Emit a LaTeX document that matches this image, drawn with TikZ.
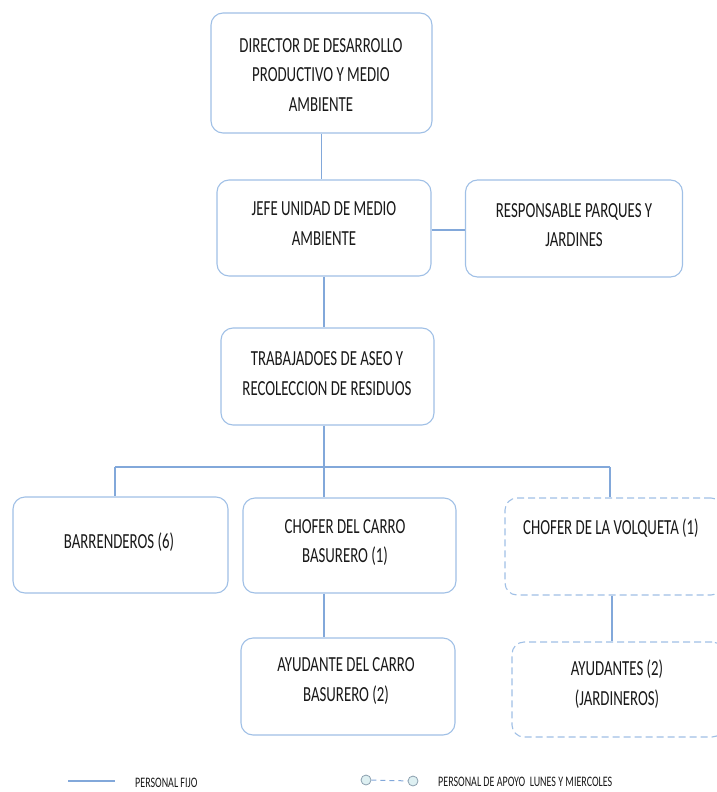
\documentclass[tikz,border=0pt]{standalone}
\usepackage{fontspec}
\setmainfont{Carlito}[FakeStretch=0.69]
\definecolor{boxline}{RGB}{160,192,230}
\definecolor{conn}{RGB}{130,168,218}
\definecolor{circfill}{RGB}{222,240,242}
\definecolor{circline}{RGB}{140,160,175}
\tikzset{
  orgbox/.style={draw=boxline, line width=1.1pt, rounded corners=12pt, fill=white, inner sep=0pt},
  dashbox/.style={orgbox, dash pattern=on 7pt off 4pt},
  txt/.style={font=\fontsize{21.5}{29.5}\selectfont, align=center, text=black!90, inner sep=0pt},
  smalltxt/.style={font=\fontsize{14.5}{15}\selectfont, text=black!90, inner sep=0pt, anchor=west},
  conn/.style={draw=conn, line width=1.1pt},
  legdot/.style={circle, draw=circline, fill=circfill, line width=0.8pt, minimum size=10pt, inner sep=0pt}
}
\begin{document}
\begin{tikzpicture}[x=1pt,y=-1pt]
\useasboundingbox (0,0) rectangle (717,792);
% boxes
\node[orgbox, minimum width=221pt, minimum height=120pt] (dir) at (321.5,73) {};
\node[orgbox, minimum width=214pt, minimum height=96pt] (jefe) at (324,228) {};
\node[orgbox, minimum width=217pt, minimum height=97pt] (resp) at (574,228.5) {};
\node[orgbox, minimum width=213pt, minimum height=97pt] (trab) at (327.5,376.5) {};
\node[orgbox, minimum width=215pt, minimum height=96pt] (barr) at (120.5,545) {};
\node[orgbox, minimum width=213pt, minimum height=95pt] (chof) at (349.5,545.5) {};
\node[dashbox, minimum width=218pt, minimum height=97pt] (volq) at (614,546.5) {};
\node[orgbox, minimum width=214pt, minimum height=97pt] (ayud) at (348,686.5) {};
\node[dashbox, minimum width=212pt, minimum height=95pt] (ayus) at (618,689.5) {};
% texts
\node[txt] (tdir) at (321,75) {DIRECTOR DE DESARROLLO\\PRODUCTIVO Y MEDIO\\AMBIENTE};
\node[txt] (tjefe) at (324,223.5) {JEFE UNIDAD DE MEDIO\\AMBIENTE};
\node[txt] (tresp) at (574,225) {RESPONSABLE PARQUES Y\\JARDINES};
\node[txt] (ttrab) at (327,373.5) {TRABAJADOES DE ASEO Y\\RECOLECCION DE RESIDUOS};
\node[txt] (tbarr) at (119,542) {BARRENDEROS (6)};
\node[txt] (tchof) at (345,542.5) {CHOFER DEL CARRO\\BASURERO (1)};
\node[txt] (tvolq) at (611,528) {CHOFER DE LA VOLQUETA (1)};
\node[txt] (tayud) at (346,681) {AYUDANTE DEL CARRO\\BASURERO (2)};
\node[txt] (tayus) at (617,684) {AYUDANTES (2)\\(JARDINEROS)};
% connectors
\coordinate (bus) at (324,467);
\coordinate (busL) at (115,467);
\coordinate (busR) at (610,467);
\coordinate (jr) at (0,230);
\draw[conn] (dir.south) -- (dir.south |- jefe.north);
\draw[conn] (jefe.south) -- (jefe.south |- trab.north);
\draw[conn] (jefe.east |- jr) -- (resp.west |- jr);
\draw[conn] (trab.south -| bus) -- (bus);
\draw[conn] (busL) -- (busR);
\draw[conn] (busL) -- (busL |- barr.north);
\draw[conn] (bus) -- (bus |- chof.north);
\draw[conn] (busR) -- (busR |- volq.north);
\draw[conn] (chof.south -| bus) -- (bus |- ayud.north);
\draw[conn] (volq.south -| 612,0) -- (612,0 |- ayus.north);
% legend
\coordinate (l1a) at (68,781);
\coordinate (l1b) at (115,781);
\draw[conn] (l1a) -- (l1b);
\node[smalltxt] (leg1) at (135,783) {PERSONAL FIJO};
\node[legdot] (c1) at (366,780) {};
\node[legdot] (c2) at (413,781) {};
\draw[conn, line width=1pt, dash pattern=on 5pt off 4pt] (c1) -- (c2);
\node[smalltxt] (leg2) at (438,782) {PERSONAL DE APOYO\ \ LUNES Y MIERCOLES};
\end{tikzpicture}
\end{document}
